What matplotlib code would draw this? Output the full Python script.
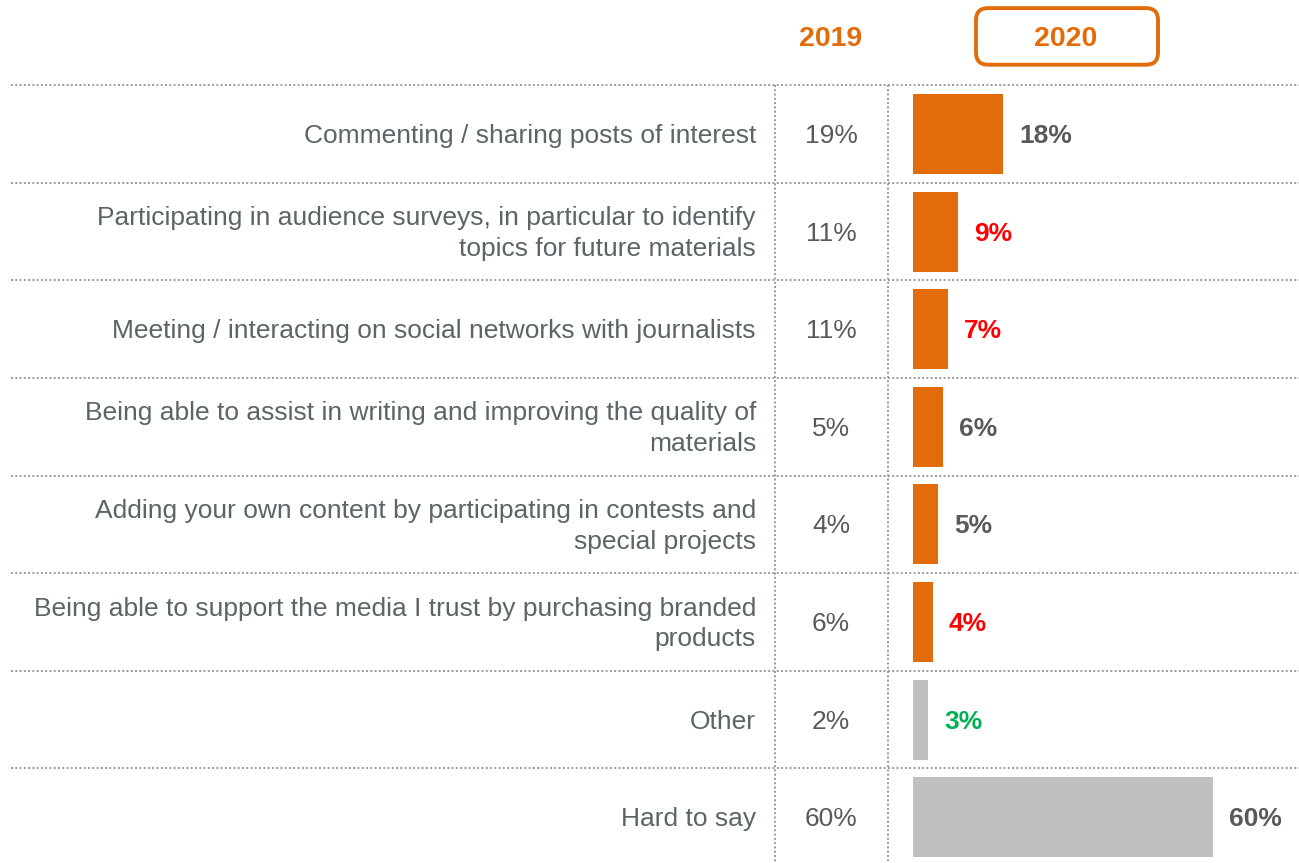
import matplotlib.pyplot as plt
from matplotlib.patches import FancyBboxPatch

plt.rcParams['font.family'] = ['Liberation Sans', 'DejaVu Sans']

# survey answers, top to bottom
labels = [
    "Commenting / sharing posts of interest",
    "Participating in audience surveys, in particular to identify\ntopics for future materials",
    "Meeting / interacting on social networks with journalists",
    "Being able to assist in writing and improving the quality of\nmaterials",
    "Adding your own content by participating in contests and\nspecial projects",
    "Being able to support the media I trust by purchasing branded\nproducts",
    "Other",
    "Hard to say",
]
values_2019 = [19, 11, 11, 5, 4, 6, 2, 60]
values_2020 = [18, 9, 7, 6, 5, 4, 3, 60]

ORANGE = "#E36C0A"
GREY_BAR = "#BFBFBF"
LABEL_COL = "#5B6567"
VALUE_COL = "#595959"
RED = "#FF0000"
GREEN = "#00B050"
DOT_COL = "#9A9A9A"

# bar colour: answer options orange, "Other" / "Hard to say" grey
bar_colors = [ORANGE] * 6 + [GREY_BAR] * 2
# highlight of the 2020 value labels
label_colors = [VALUE_COL, RED, RED, VALUE_COL, VALUE_COL, RED, GREEN, VALUE_COL]

W, H = 1299, 863
fig = plt.figure(figsize=(W / 100, H / 100), dpi=100)

# row geometry in row units
y_top, y_bot = -1.373, 7.469
dy = 0.02  # nudge text down a touch

# background axes in pixel coordinates for grid, labels and headers
bg = fig.add_axes([0, 0, 1, 1])
bg.set_xlim(0, W)
bg.set_ylim(y_bot, y_top)
bg.axis("off")

n = len(labels)
for i in range(n):
    bg.plot([11, W], [i - 0.5, i - 0.5], color=DOT_COL, lw=1.4,
            linestyle=(0, (1, 1.2)))
for x in (775, 888):
    bg.plot([x, x], [-0.5, y_bot], color=DOT_COL, lw=1.4,
            linestyle=(0, (1, 1.2)))

for i, (lab, v) in enumerate(zip(labels, values_2019)):
    bg.text(756, i + dy, lab, ha="right", va="center", fontsize=19,
            color=LABEL_COL, linespacing=1.36)
    bg.text(831, i + dy, f"{v}%", ha="center", va="center", fontsize=19,
            color=VALUE_COL)

# column headers
bg.text(831, -0.97, "2019", ha="center", va="center", fontsize=20.5,
        fontweight="bold", color=ORANGE)
bg.text(1066, -0.97, "2020", ha="center", va="center", fontsize=20.5,
        fontweight="bold", color=ORANGE)
box = FancyBboxPatch((976, -1.29), 182, 0.58,
                     boxstyle="round,pad=0,rounding_size=12",
                     mutation_aspect=1 / 97.6,
                     fill=False, edgecolor=ORANGE, lw=2.8)
bg.add_patch(box)

# bars for 2020
x0 = 913
scale = 5.0  # pixels per percent
ax = fig.add_axes([x0 / W, 0, (W - x0) / W, 1])
ax.set_xlim(0, (W - x0) / scale)
ax.set_ylim(y_bot, y_top)
ax.axis("off")

rows = list(range(n))
ax.barh(rows, values_2020, height=0.82, color=bar_colors, left=0)
for i, (v, c) in enumerate(zip(values_2020, label_colors)):
    ax.text(v + 3.2, i + dy, f"{v}%", ha="left", va="center", fontsize=19,
            fontweight="bold", color=c)

fig.savefig("out.png", dpi=100)
